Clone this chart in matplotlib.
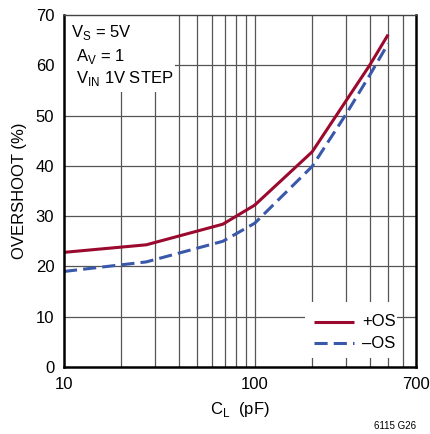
import matplotlib
matplotlib.use("Agg")
import matplotlib.pyplot as plt
from matplotlib.patches import Rectangle

plt.rcParams['font.family'] = ['Liberation Sans Narrow', 'Liberation Sans', 'DejaVu Sans']

cl_pos = [10, 27, 68, 100, 200, 400, 500]
os_pos = [22.8, 24.3, 28.4, 32.2, 42.8, 60.0, 66.1]
cl_neg = [10, 27, 68, 100, 200, 300, 400, 500]
os_neg = [19.0, 20.9, 25.0, 28.6, 39.9, 50.2, 58.0, 64.3]

x_grid = [20, 30, 40, 50, 60, 70, 80, 90, 100, 200, 300, 400, 500, 600]
y_ticks = [0, 10, 20, 30, 40, 50, 60, 70]
x_ticks = [10, 100, 700]

fig = plt.figure(figsize=(4.30, 4.34), dpi=100)
ax = fig.add_axes([64/430, 1-367/434, 352/430, 352/434])
ax.set_xscale('log')
ax.set_xlim(10, 700)
ax.set_ylim(0, 70)

gc = '#555555'
for xv in x_grid:
    ax.axvline(xv, color=gc, lw=0.9, zorder=1)
for yv in y_ticks[1:-1]:
    ax.axhline(yv, color=gc, lw=0.9, zorder=1)

# white boxes behind annotation and legend
ax.add_patch(Rectangle((0, (367-92)/352), (175-64)/352, 1, transform=ax.transAxes,
                       facecolor='white', edgecolor='none', zorder=2))
ax.add_patch(Rectangle(((305-64)/352, (367-358)/352), (397-305)/352, (358-302)/352,
                       transform=ax.transAxes, facecolor='white', edgecolor='none', zorder=2))

ax.plot(cl_pos, os_pos, color='#9B0A2E', lw=2.2, zorder=4, solid_capstyle='butt')
ax.plot(cl_neg, os_neg, color='#3A58AA', lw=2.2, zorder=3, dashes=(4.3, 2.0))

# legend
def ax_x(px):
    return (px-64)/352
def ax_y(py):
    return (367-py)/352
ax.plot([ax_x(314), ax_x(354)], [ax_y(321.7)]*2, transform=ax.transAxes,
        color='#9B0A2E', lw=2.2, zorder=5, solid_capstyle='butt')
ax.plot([ax_x(314), ax_x(354)], [ax_y(343.3)]*2, transform=ax.transAxes,
        color='#3A58AA', lw=2.2, zorder=5, dashes=(4.3, 2.0))
ax.text(ax_x(362), ax_y(322), '+OS', transform=ax.transAxes, fontsize=12,
        va='center', ha='left', zorder=6)
ax.text(ax_x(362), ax_y(344), '\u2013OS', transform=ax.transAxes, fontsize=12,
        va='center', ha='left', zorder=6)

# annotation
ax.text(ax_x(71), ax_y(33), r'V$_\mathregular{S}$ = 5V', transform=ax.transAxes,
        fontsize=12, va='center', ha='left', zorder=6)
ax.text(ax_x(76), ax_y(56), r'A$_\mathregular{V}$ = 1', transform=ax.transAxes,
        fontsize=12, va='center', ha='left', zorder=6)
ax.text(ax_x(76), ax_y(78), r'V$_\mathregular{IN}$ 1V STEP', transform=ax.transAxes,
        fontsize=12, va='center', ha='left', zorder=6)

ax.set_yticks(y_ticks)
ax.set_yticklabels([str(v) for v in y_ticks], fontsize=12)
ax.set_xticks(x_ticks)
ax.set_xticklabels([str(v) for v in x_ticks], fontsize=12)
ax.xaxis.set_minor_locator(matplotlib.ticker.NullLocator())
ax.tick_params(axis='both', length=0, pad=7)

for s in ['left', 'bottom', 'right']:
    ax.spines[s].set_linewidth(1.8)
    ax.spines[s].set_color('black')
ax.spines['top'].set_linewidth(1.0)
ax.spines['top'].set_color('#444444')
for sp in ax.spines.values():
    sp.set_zorder(7)

ax.set_ylabel('OVERSHOOT (%)', fontsize=12, labelpad=6)
ax.set_xlabel(r'C$_\mathregular{L}$  (pF)', fontsize=12, labelpad=6)

fig.text(395/430, 1-426/434, '6115 G26', fontsize=7, ha='center', va='center')

fig.savefig('out.png', dpi=100)
